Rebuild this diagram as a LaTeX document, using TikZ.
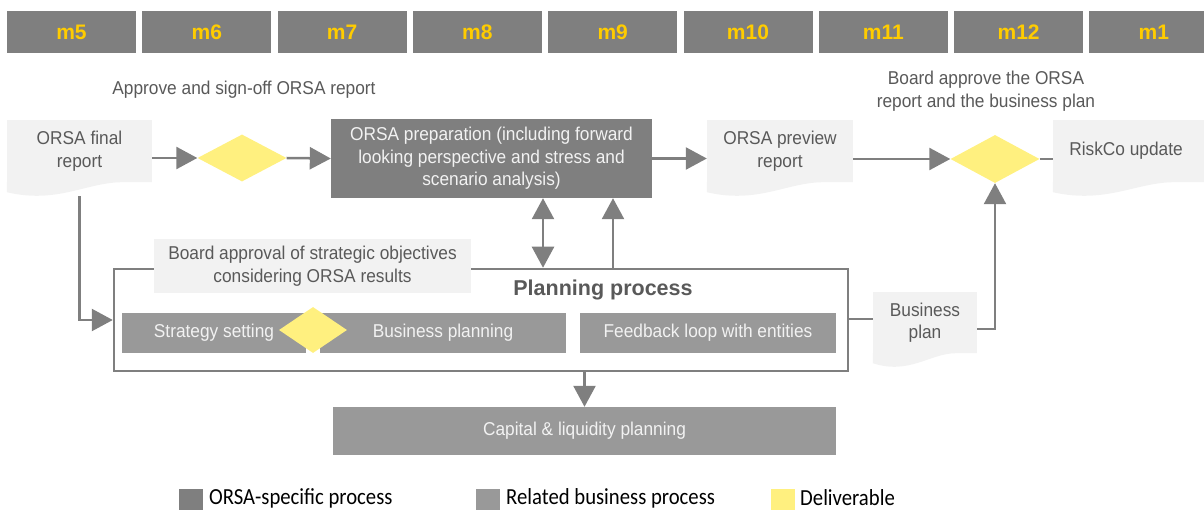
\documentclass[tikz,border=0pt]{standalone}
\usepackage{fontspec}
\setmainfont{Liberation Sans}
\newfontfamily\narrowfont[FakeStretch=0.93]{Liberation Sans}
\newfontfamily\legendfont[FakeStretch=0.9]{Carlito}
\usetikzlibrary{arrows.meta,shapes.geometric}

\definecolor{orsagray}{HTML}{7F7F7F}
\definecolor{relgray}{HTML}{999999}
\definecolor{docgray}{HTML}{F2F2F2}
\definecolor{delivyellow}{HTML}{FFF07F}
\definecolor{monthyellow}{HTML}{FFCC00}
\definecolor{txtgray}{HTML}{595959}

\newcommand{\bodyfont}{\narrowfont\fontsize{18.6}{22.5}\selectfont}

\tikzset{
	monthbar/.style={fill=orsagray, minimum width=129pt, minimum height=42pt, inner sep=0pt,
		text=monthyellow, font=\fontsize{21}{24}\selectfont\bfseries},
	docnode/.style={fill=docgray, text=txtgray, align=center, inner sep=0pt, font=\bodyfont},
	orsabox/.style={fill=orsagray, text=docgray, align=center, inner sep=0pt, font=\bodyfont},
	relbox/.style={fill=relgray, text=docgray, align=center, inner sep=0pt, font=\bodyfont},
	delivery/.style={diamond, fill=delivyellow, inner sep=0pt},
	note/.style={text=txtgray, align=center, font=\bodyfont},
	plainline/.style={draw=orsagray, line width=2.5pt},
	conn/.style={plainline, -{Triangle[length=21pt,width=22pt]}},
	legbox/.style={minimum width=24pt, minimum height=24pt, inner sep=0pt},
	legtext/.style={anchor=west, inner sep=0pt, font=\legendfont\fontsize{23}{26}\selectfont}
}

% wavy bottom of a document shape
\newcommand{\docwave}[2]{%
	\fill[docgray] (#1.south west) -- ++(0,10) .. controls +({#2*0.35},12) and +({-#2*0.25},0) .. ++({#2*0.8},-10) -- (#1.south east) -- cycle;}

\begin{document}
\begin{tikzpicture}[x=1pt,y=-1pt]
	\useasboundingbox (0,0) rectangle (1204,510);

	% months
	\foreach \m [count=\i from 0] in {m5,m6,m7,m8,m9,m10,m11,m12,m1}
		\node[monthbar] (\m) at ({71.5+135.3*\i},32) {\m};

	\node[note] (signoff) at (244,90) {Approve and sign-off ORSA report};
	\node[note] (boardok) at (986,91) {Board approve the ORSA\\report and the business plan};

	% top row
	\node[docnode, minimum width=145pt, minimum height=62pt] (final) at (79.5,151) {ORSA final\\report};
	\docwave{final}{145}
	\node[delivery, minimum width=89pt, minimum height=47pt] (signd) at (242,158) {};
	\node[orsabox, minimum width=321pt, minimum height=79pt] (prep) at (491.5,158.5)
		{ORSA preparation (including forward\\looking perspective and stress and\\scenario analysis)};
	\node[docnode, minimum width=146pt, minimum height=62pt] (preview) at (780,151) {ORSA preview\\report};
	\docwave{preview}{146}
	\node[delivery, minimum width=89pt, minimum height=48pt] (boardd) at (995,159) {};
	\node[docnode, minimum width=152pt, minimum height=62pt] (riskco) at (1129,151) {\hspace*{-6pt}RiskCo update};
	\docwave{riskco}{152}

	% planning process
	\node[draw=orsagray, line width=2.5pt, fill=white, minimum width=734pt, minimum height=102pt] (plan) at (481,320) {};
	\node[docnode, minimum width=317pt, minimum height=54pt] (objectives) at (312.5,266)
		{Board approval of strategic objectives\\considering ORSA results};
	\node[text=txtgray, font=\fontsize{21.5}{24}\selectfont\bfseries] (plantitle) at (603,290) {Planning process};
	\node[relbox, minimum width=184pt, minimum height=40pt] (strategy) at (214,333) {Strategy setting};
	\node[relbox, minimum width=246pt, minimum height=40pt] (business) at (443,333) {Business planning};
	\node[delivery, minimum width=68pt, minimum height=46pt] (stratd) at (313,330) {};
	\node[relbox, minimum width=256pt, minimum height=40pt] (feedback) at (708,333) {Feedback loop with entities};
	\node[docnode, minimum width=104pt, minimum height=61pt] (bplan) at (925,322.5) {Business\\plan};
	\docwave{bplan}{104}
	\node[relbox, minimum width=503pt, minimum height=48pt] (capital) at (584.5,431) {Capital \& liquidity planning};

	% connectors
	\draw[conn] (signd.west -| final.east) -- (signd.west);
	\draw[conn] (signd.east) -- (prep.west);
	\draw[conn] (prep.east) -- (prep.east -| preview.west);
	\draw[conn] (boardd.west -| preview.east) -- (boardd.west);
	\draw[plainline] (boardd.east) -- (boardd.east -| riskco.west);
	\draw[conn] ([yshift=-14pt]final.south) |- (plan.west);
	\draw[conn, {Triangle[length=21pt,width=22pt]}-{Triangle[length=21pt,width=22pt]}]
		([xshift=51.5pt]prep.south) -- ([xshift=51.5pt]prep.south |- plan.north);
	\draw[conn] ([xshift=121.5pt]prep.south |- plan.north) -- ([xshift=121.5pt]prep.south);
	\draw[conn] (capital.north |- plan.south) -- (capital.north);
	\draw[plainline] ([yshift=1pt]plan.east) -- ([yshift=1pt]plan.east -| bplan.west);
	\draw[conn] ([yshift=-6.5pt]bplan.east) -| (boardd.south);

	% legend
	\node[legbox, fill=orsagray] (legorsa) at (191,501) {};
	\node[legtext] at (209,498) {ORSA-specific process};
	\node[legbox, fill=relgray] (legrel) at (487.5,501) {};
	\node[legtext] at (506,498) {Related business process};
	\node[legbox, fill=delivyellow] (legdeliv) at (782.5,501) {};
	\node[legtext] at (800,498) {Deliverable};
\end{tikzpicture}
\end{document}
